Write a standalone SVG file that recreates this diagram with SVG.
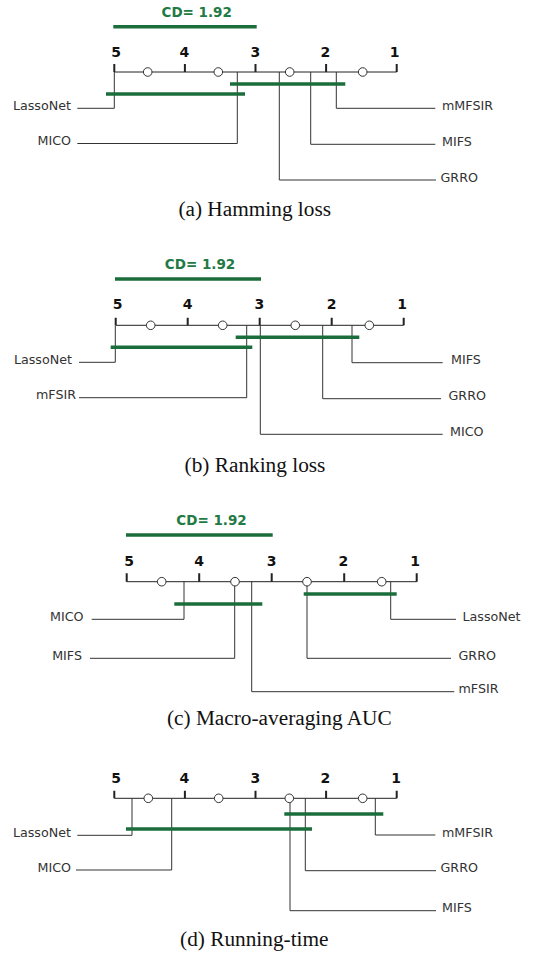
<svg xmlns="http://www.w3.org/2000/svg" width="533" height="957" viewBox="0 0 533 957">
<style>
.bg{fill:#fff}
.axis{stroke:#222;stroke-width:1;fill:none}
.tick{stroke:#222;stroke-width:2;fill:none}
.tl{font-family:"DejaVu Sans",Verdana,sans-serif;font-weight:bold;font-size:14px;fill:#111;text-anchor:middle}
.cd{font-family:"DejaVu Sans",Verdana,sans-serif;font-weight:bold;font-size:13.5px;fill:#1f7a45;text-anchor:middle}
.cdbar{stroke:#1b6e3c;stroke-width:3.5;fill:none}
.bar{stroke:#1b6e3c;stroke-width:3.5;fill:none}
.conn{stroke:#333;stroke-width:1;fill:none}
.pt{fill:#fff;stroke:#333;stroke-width:1}
.lbl{font-family:"DejaVu Sans",Verdana,sans-serif;font-size:12.7px;fill:#333}
.l{text-anchor:end}
.r{text-anchor:start}
.cap{font-family:"Liberation Serif","Times New Roman",serif;font-size:21.3px;fill:#111;text-anchor:middle}
</style>
<rect class="bg" x="0" y="0" width="533" height="957"/>

<!-- Panel (a) -->
<g id="panel-a">
  <g id="a-scale">
    <text class="cd" x="196.7" y="17.3">CD= 1.92</text>
    <line class="cdbar" x1="113.3" y1="26.7" x2="256.7" y2="26.7"/>
    <line class="axis" x1="114.3" y1="72" x2="396.7" y2="72"/>
    <path class="tick" d="M114.3 64V72M184.9 64V72M255.5 64V72M326.1 64V72M396.7 64V72"/>
    <text class="tl" x="116" y="56.5">5</text>
    <text class="tl" x="184.3" y="56.5">4</text>
    <text class="tl" x="255.3" y="56.5">3</text>
    <text class="tl" x="325.3" y="56.5">2</text>
    <text class="tl" x="394.7" y="56.5">1</text>
  </g>
  <g id="a-connectors">
    <path class="conn" d="M114.3 72V108.3H77.3"/>
    <path class="conn" d="M237.3 72V143.5H77.3"/>
    <path class="conn" d="M279.3 72V180H436"/>
    <path class="conn" d="M310.7 72V144.3H435.3"/>
    <path class="conn" d="M336.3 72V108.3H435.3"/>
    <circle class="pt" cx="147.7" cy="72" r="4.3"/>
    <circle class="pt" cx="218.3" cy="72" r="4.3"/>
    <circle class="pt" cx="289.7" cy="72" r="4.3"/>
    <circle class="pt" cx="362.7" cy="72" r="4.3"/>
    <line class="bar" x1="106" y1="94" x2="245" y2="94"/>
    <line class="bar" x1="230" y1="84" x2="345.3" y2="84"/>
  </g>
  <g id="a-LassoNet"><text class="lbl l" x="71" y="109.5">LassoNet</text></g>
  <g id="a-MICO"><text class="lbl l" x="71" y="145">MICO</text></g>
  <g id="a-mMFSIR"><text class="lbl r" x="442" y="109.8">mMFSIR</text></g>
  <g id="a-MIFS"><text class="lbl r" x="442" y="145.8">MIFS</text></g>
  <g id="a-GRRO"><text class="lbl r" x="440.5" y="181.5">GRRO</text></g>
  <text class="cap" x="254.7" y="216">(a) Hamming loss</text>
</g>

<!-- Panel (b) -->
<g id="panel-b">
  <g id="b-scale">
    <text class="cd" x="200" y="269">CD= 1.92</text>
    <line class="cdbar" x1="115" y1="279" x2="261" y2="279"/>
    <line class="axis" x1="115.7" y1="325.3" x2="403.7" y2="325.3"/>
    <path class="tick" d="M115.7 317.7V325.3M187.7 317.7V325.3M259.7 317.7V325.3M331.7 317.7V325.3M403.7 317.7V325.3"/>
    <text class="tl" x="117.7" y="309.3">5</text>
    <text class="tl" x="187.7" y="309.3">4</text>
    <text class="tl" x="259.3" y="309.3">3</text>
    <text class="tl" x="331.7" y="309.3">2</text>
    <text class="tl" x="402" y="309.3">1</text>
  </g>
  <g id="b-connectors">
    <path class="conn" d="M115.3 325.3V362.3H79"/>
    <path class="conn" d="M246.7 325.3V397.7H79"/>
    <path class="conn" d="M260.3 325.3V434.3H442.7"/>
    <path class="conn" d="M322.7 325.3V398.7H441"/>
    <path class="conn" d="M352 325.3V362.7H442.7"/>
    <circle class="pt" cx="150.7" cy="325.3" r="4.3"/>
    <circle class="pt" cx="222.7" cy="325.3" r="4.3"/>
    <circle class="pt" cx="295.3" cy="325.3" r="4.3"/>
    <circle class="pt" cx="369.3" cy="325.3" r="4.3"/>
    <line class="bar" x1="110.7" y1="347.3" x2="252.3" y2="347.3"/>
    <line class="bar" x1="235.7" y1="337.3" x2="359.3" y2="337.3"/>
  </g>
  <g id="b-LassoNet"><text class="lbl l" x="72" y="363.5">LassoNet</text></g>
  <g id="b-mFSIR"><text class="lbl l" x="76" y="399">mFSIR</text></g>
  <g id="b-MIFS"><text class="lbl r" x="451" y="364">MIFS</text></g>
  <g id="b-GRRO"><text class="lbl r" x="448.5" y="400">GRRO</text></g>
  <g id="b-MICO"><text class="lbl r" x="450" y="436">MICO</text></g>
  <text class="cap" x="255" y="471.5">(b) Ranking loss</text>
</g>

<!-- Panel (c) -->
<g id="panel-c">
  <g id="c-scale">
    <text class="cd" x="211.5" y="525">CD= 1.92</text>
    <line class="cdbar" x1="126" y1="535" x2="272.7" y2="535"/>
    <line class="axis" x1="126.7" y1="581.7" x2="416.7" y2="581.7"/>
    <path class="tick" d="M126.7 573.3V581.7M199.2 573.3V581.7M271.7 573.3V581.7M344.2 573.3V581.7M416.7 573.3V581.7"/>
    <text class="tl" x="129" y="565.7">5</text>
    <text class="tl" x="199" y="565.7">4</text>
    <text class="tl" x="271.7" y="565.7">3</text>
    <text class="tl" x="343.3" y="565.7">2</text>
    <text class="tl" x="415" y="565.7">1</text>
  </g>
  <g id="c-connectors">
    <path class="conn" d="M184 581.7V619.3H91.7"/>
    <path class="conn" d="M234.7 581.7V658.3H90"/>
    <path class="conn" d="M251.7 581.7V691.7H454.3"/>
    <path class="conn" d="M307 581.7V658.3H451"/>
    <path class="conn" d="M390.7 581.7V619.3H456"/>
    <circle class="pt" cx="161.7" cy="581.7" r="4.3"/>
    <circle class="pt" cx="235" cy="581.7" r="4.3"/>
    <circle class="pt" cx="307" cy="581.7" r="4.3"/>
    <circle class="pt" cx="381.7" cy="581.7" r="4.3"/>
    <line class="bar" x1="174.3" y1="604" x2="262.3" y2="604"/>
    <line class="bar" x1="303.7" y1="594" x2="396.7" y2="594"/>
  </g>
  <g id="c-MICO"><text class="lbl l" x="83.5" y="620.8">MICO</text></g>
  <g id="c-MIFS"><text class="lbl l" x="82" y="659.8">MIFS</text></g>
  <g id="c-LassoNet"><text class="lbl r" x="462.5" y="621">LassoNet</text></g>
  <g id="c-GRRO"><text class="lbl r" x="458.5" y="660">GRRO</text></g>
  <g id="c-mFSIR"><text class="lbl r" x="458.5" y="692.8">mFSIR</text></g>
  <text class="cap" x="279.3" y="725">(c) Macro-averaging AUC</text>
</g>

<!-- Panel (d) -->
<g id="panel-d">
  <g id="d-scale">
    <line class="axis" x1="114.3" y1="798.3" x2="396.7" y2="798.3"/>
    <path class="tick" d="M114.3 790.7V798.3M184.9 790.7V798.3M255.5 790.7V798.3M326.1 790.7V798.3M396.7 790.7V798.3"/>
    <text class="tl" x="116" y="782.7">5</text>
    <text class="tl" x="184.3" y="782.7">4</text>
    <text class="tl" x="255.3" y="782.7">3</text>
    <text class="tl" x="325.3" y="782.7">2</text>
    <text class="tl" x="396" y="782.7">1</text>
  </g>
  <g id="d-connectors">
    <path class="conn" d="M132 798.3V835.3H77.3"/>
    <path class="conn" d="M171.7 798.3V870H76"/>
    <path class="conn" d="M290 798.3V910.7H436"/>
    <path class="conn" d="M305.3 798.3V870.7H436"/>
    <path class="conn" d="M375.3 798.3V835H435.3"/>
    <circle class="pt" cx="148.3" cy="798.3" r="4.3"/>
    <circle class="pt" cx="218.7" cy="798.3" r="4.3"/>
    <circle class="pt" cx="289.3" cy="798.3" r="4.3"/>
    <circle class="pt" cx="362.7" cy="798.3" r="4.3"/>
    <line class="bar" x1="126" y1="829" x2="312" y2="829"/>
    <line class="bar" x1="284.3" y1="814" x2="383.3" y2="814"/>
  </g>
  <g id="d-LassoNet"><text class="lbl l" x="71" y="836.5">LassoNet</text></g>
  <g id="d-MICO"><text class="lbl l" x="71" y="871.5">MICO</text></g>
  <g id="d-mMFSIR"><text class="lbl r" x="442" y="836.5">mMFSIR</text></g>
  <g id="d-GRRO"><text class="lbl r" x="440.5" y="872">GRRO</text></g>
  <g id="d-MIFS"><text class="lbl r" x="442" y="912">MIFS</text></g>
  <text class="cap" x="254.3" y="946">(d) Running-time</text>
</g>
</svg>
